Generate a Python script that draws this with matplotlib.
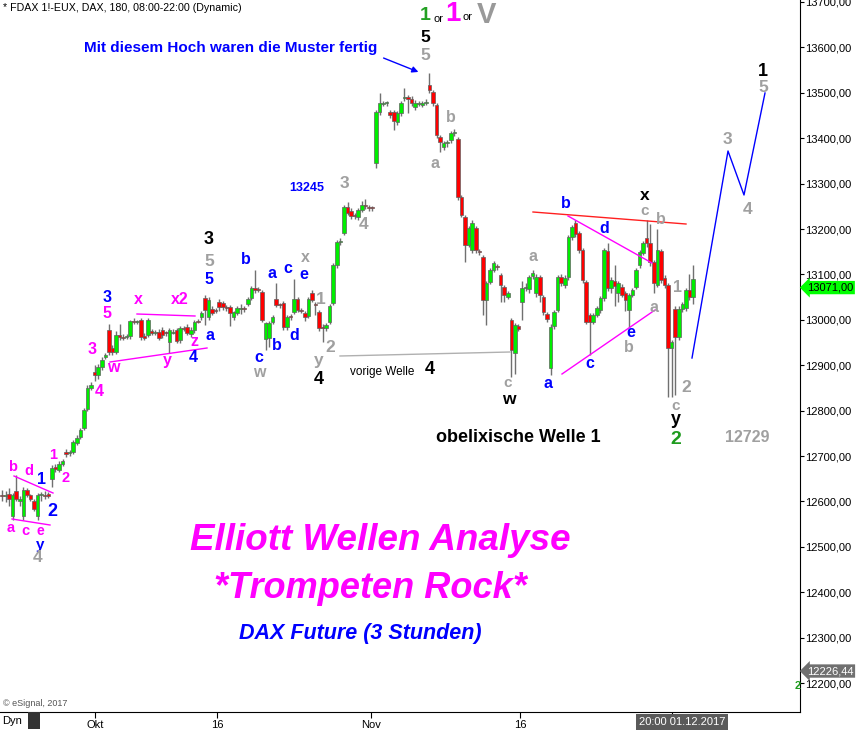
import numpy as np
import matplotlib.pyplot as plt

plt.rcParams['font.family'] = ['Liberation Sans', 'DejaVu Sans']

# 3-Stunden-Kerzen FDAX (open, high, low, close), von links nach rechts
kerzen_dreieck = [
    (12615, 12625, 12600, 12612), (12612, 12622, 12598, 12614), (12616, 12630, 12590, 12605),
    (12568, 12618, 12560, 12614), (12622, 12658, 12600, 12605), (12600, 12612, 12590, 12606),
    (12568, 12632, 12560, 12625), (12625, 12630, 12610, 12615), (12614, 12616, 12600, 12605),
    (12600, 12606, 12578, 12584), (12568, 12618, 12558, 12614), (12614, 12620, 12600, 12615),
    (12614, 12622, 12606, 12612), (12616, 12620, 12608, 12611),
]
kerzen_okt_anstieg = [
    (12649, 12680, 12632, 12674), (12676, 12682, 12664, 12671), (12669, 12688, 12664, 12682),
    (12682, 12694, 12678, 12689), (12709, 12715, 12698, 12704), (12706, 12714, 12700, 12708),
    (12709, 12735, 12704, 12731), (12729, 12746, 12724, 12740), (12742, 12762, 12738, 12757),
    (12762, 12806, 12758, 12801), (12804, 12856, 12800, 12850), (12850, 12862, 12845, 12856),
    (12885, 12900, 12866, 12878), (12878, 12902, 12870, 12896), (12896, 12918, 12890, 12912),
    (12918, 12928, 12914, 12923), (12978, 12990, 12923, 12929), (12938, 12945, 12922, 12929),
    (12929, 12975, 12925, 12967), (12967, 12990, 12955, 12962), (12963, 12968, 12955, 12961),
    (12963, 12968, 12958, 12963), (12964, 13000, 12958, 12998), (12998, 13004, 12990, 12995),
    (12996, 13000, 12990, 12996), (13000, 13005, 12956, 12962), (12964, 12970, 12955, 12960),
    (12967, 13003, 12962, 13000), (12975, 12980, 12966, 12972), (12972, 12978, 12966, 12972),
    (12973, 12980, 12955, 12960), (12978, 12984, 12960, 12967), (12972, 12976, 12965, 12971),
    (12951, 12982, 12927, 12978), (12972, 12980, 12968, 12974), (12978, 12982, 12948, 12953),
    (12956, 12986, 12950, 12982), (12982, 12986, 12975, 12980), (12984, 12990, 12966, 12971),
    (12969, 12984, 12962, 12978), (12978, 12999, 12972, 12996), (12998, 13002, 12992, 12996),
    (13006, 13020, 13000, 13015), (13048, 13055, 12989, 13022), (13006, 13050, 13000, 13044),
    (13024, 13030, 13010, 13015), (13022, 13026, 13014, 13020), (13039, 13045, 13020, 13028),
]
kerzen_okt_seitwaerts = [
    (13037, 13042, 13022, 13028), (13028, 13032, 13020, 13026), (13028, 13032, 12987, 13015),
    (13006, 13020, 13000, 13017), (13015, 13030, 13010, 13026), (13024, 13035, 13013, 13024),
    (13024, 13030, 13018, 13023), (13035, 13050, 13030, 13046), (13048, 13074, 13044, 13070),
    (13070, 13110, 13060, 13066), (13068, 13072, 13062, 13066), (13061, 13066, 12995, 13000),
    (12958, 12996, 12934, 12993), (12960, 12998, 12940, 12993), (12996, 13010, 12990, 13006),
    (13046, 13081, 13028, 13033), (13033, 13038, 13026, 13032), (13037, 13042, 12978, 12984),
    (12984, 13010, 12978, 13006), (13008, 13012, 13000, 13006), (13017, 13090, 13012, 13046),
    (13046, 13050, 13018, 13022), (13022, 13026, 13014, 13020), (13015, 13020, 12998, 13006),
    (13008, 13050, 13004, 13046), (13059, 13066, 13040, 13044),
    (13034, 13040, 13010, 13033), (13017, 13022, 12975, 12982),
    (12984, 12990, 12951, 12982), (12982, 12992, 12976, 12988), (12996, 13034, 12990, 13030),
    (13037, 13125, 13033, 13121), (13121, 13176, 13115, 13171), (13171, 13180, 13165, 13172),
    (13191, 13252, 13186, 13248), (13248, 13260, 13230, 13235), (13240, 13246, 13222, 13229),
    (13231, 13236, 13222, 13229), (13226, 13246, 13220, 13242), (13242, 13262, 13238, 13253),
    (13253, 13266, 13244, 13250), (13248, 13252, 13240, 13247), (13247, 13250, 13240, 13246),
]
kerzen_nov_hoch = [
    (13345, 13462, 13334, 13458), (13458, 13500, 13452, 13478), (13476, 13482, 13470, 13478),
    (13477, 13482, 13472, 13477), (13458, 13462, 13445, 13451), (13458, 13462, 13418, 13438),
    (13436, 13460, 13430, 13456), (13456, 13482, 13450, 13478), (13489, 13510, 13482, 13490),
    (13491, 13496, 13456, 13486), (13486, 13492, 13470, 13478),
    (13469, 13484, 13462, 13478), (13476, 13482, 13470, 13476), (13473, 13482, 13468, 13478),
    (13478, 13486, 13474, 13480), (13517, 13544, 13500, 13506), (13502, 13506, 13472, 13478),
    (13473, 13478, 13400, 13407), (13403, 13408, 13370, 13392), (13381, 13394, 13374, 13389),
    (13389, 13396, 13380, 13390), (13396, 13416, 13390, 13411), (13412, 13420, 13405, 13414),
    (13398, 13402, 13264, 13270), (13270, 13274, 13226, 13231), (13226, 13230, 13127, 13165),
    (13165, 13206, 13160, 13202), (13154, 13220, 13148, 13213), (13202, 13206, 13148, 13154),
    (13151, 13155, 13142, 13149), (13138, 13142, 13010, 13044), (13044, 13085, 12989, 13081),
    (13083, 13114, 13078, 13110), (13110, 13130, 13105, 13125), (13118, 13122, 13110, 13116),
    (13099, 13104, 13040, 13077), (13072, 13076, 13040, 13055), (13050, 13064, 13046, 13059),
    (13000, 13005, 12874, 12934), (12927, 12994, 12880, 12989), (12986, 12990, 12975, 12980),
]
kerzen_nov_seitwaerts = [
    (13039, 13086, 13000, 13070), (13070, 13080, 13064, 13072), (13068, 13098, 13060, 13094),
    (13096, 13110, 13090, 13103), (13059, 13100, 13050, 13094), (13094, 13098, 13040, 13055),
    (13050, 13055, 13010, 13017), (13013, 13018, 12995, 13002), (12894, 12990, 12878, 12984),
    (12986, 13022, 12980, 13017), (13022, 13098, 13017, 13094), (13094, 13100, 13075, 13081),
    (13077, 13098, 13070, 13092), (13094, 13186, 13088, 13182), (13182, 13208, 13176, 13204),
    (13213, 13220, 13182, 13189), (13191, 13196, 13148, 13154), (13154, 13158, 13082, 13088),
    (13083, 13088, 12990, 12996), (13011, 13016, 12923, 12996), (12996, 13016, 12990, 13011),
    (13011, 13030, 13006, 13026), (13022, 13052, 13016, 13048), (13048, 13158, 13042, 13154),
    (13151, 13170, 13064, 13070), (13070, 13094, 13060, 13088), (13086, 13120, 13030, 13075),
    (13059, 13086, 13040, 13081), (13072, 13078, 13050, 13055), (13059, 13064, 13020, 13044),
    (13022, 13060, 12985, 13055), (13055, 13070, 13050, 13066), (13072, 13114, 13068, 13110),
    (13121, 13154, 13115, 13149), (13147, 13174, 13142, 13169), (13180, 13220, 13160, 13169),
    (13169, 13210, 13118, 13127), (13127, 13132, 13060, 13081), (13077, 13200, 13072, 13154),
    (13151, 13156, 13082, 13088), (13092, 13098, 13070, 13077), (13077, 13082, 12830, 12938),
    (12938, 12956, 12830, 12951), (13024, 13030, 12834, 12962), (12962, 13030, 12955, 13024),
    (13024, 13040, 13018, 13035), (13026, 13070, 13020, 13066), (13066, 13100, 13044, 13050),
    (13050, 13120, 13035, 13090),
]

preis_ticks = list(range(12200, 13701, 100))
datum_labels = ['Okt', '16', 'Nov', '16']
letzter_kurs = 13071.00
tief_kurs = 12226.44

kerzen = kerzen_dreieck + kerzen_okt_anstieg + kerzen_okt_seitwaerts + kerzen_nov_hoch + kerzen_nov_seitwaerts
o, h, l, c = (np.array(v, dtype=float) for v in zip(*kerzen))
x = np.arange(len(kerzen))

W, H = 856, 730
fig = plt.figure(figsize=(W / 100, H / 100), dpi=100)
fig.patch.set_facecolor('white')
ax = fig.add_axes([0, (H - 712) / H, 800 / W, 712 / H])

y_top, y_bot = 13704.4, 12136.2
sp = 691 / (len(kerzen) - 1)


def px(xp, yp):
    # Pixel im Bild -> Datenkoordinaten (Kerzenindex, Kurs)
    return (xp - 2) / sp, y_top - yp * (y_top - y_bot) / 712


ax.set_xlim(px(0, 0)[0], px(800, 0)[0])
ax.set_ylim(y_bot, y_top)

# Kerzen: Dochte hinter den Koerpern
ax.vlines(x, l, h, color='#707070', lw=1, zorder=1)
unten = np.minimum(o, c)
hoehe = np.maximum(np.abs(c - o), 2.0)
farben = np.where(c >= o, '#00ee00', '#ff0000')
ax.bar(x, hoehe, bottom=unten, width=1.0, color=farben, edgecolor='#606060', linewidth=0.5, zorder=2)

# Achsen
for s in ['left', 'top']:
    ax.spines[s].set_visible(False)
ax.yaxis.tick_right()
ax.set_yticks(preis_ticks)
ax.set_yticklabels([f"{p},00" for p in preis_ticks])
ax.tick_params(axis='y', direction='out', length=3, labelsize=8, pad=1)
ax.set_xticks([px(p, 0)[0] for p in [95, 217, 371, 520, 672]])
ax.set_xticklabels(datum_labels + [''])
ax.tick_params(axis='x', direction='out', length=4, labelsize=8, pad=2)


def linie(punkte, farbe, lw=1.0):
    pts = [px(a, b) for a, b in punkte]
    ax.plot([p[0] for p in pts], [p[1] for p in pts], color=farbe, lw=lw, clip_on=False, zorder=3)


linie([(14, 476), (53, 493)], '#ff00ff')
linie([(12, 519), (50, 525)], '#ff00ff')
linie([(137, 314), (195, 316)], '#ff00ff')
linie([(110, 362), (207, 348)], '#ff00ff')
linie([(340, 356), (510, 352)], '#b0b0b0')
linie([(533, 212), (686, 224)], '#ff2020')
linie([(568, 216), (652, 263)], '#ff00ff')
linie([(562, 374), (655, 310)], '#ff00ff')
linie([(692, 358), (728, 151), (744, 195), (765, 93)], '#0000ff')

ax.annotate('', xy=px(421, 73), xytext=px(381, 57),
            arrowprops=dict(arrowstyle='-|>', color='#0000ff', lw=1, mutation_scale=9))


def t(s, xp, yp, farbe, size=11, bold=True, **kw):
    fig.text(xp / W, 1 - yp / H, s, color=farbe, fontsize=size,
             fontweight='bold' if bold else 'normal', ha=kw.pop('ha', 'center'), va='center', **kw)


GR, BL, MA, SW, GN = '#a0a0a0', '#0000ff', '#ff00ff', 'black', '#1e9b1e'

t('* FDAX 1!-EUX, DAX, 180, 08:00-22:00 (Dynamic)', 3, 8, SW, 7.7, False, ha='left')
t('1', 425, 15, '#22a022', 14)
t('or', 438, 19, SW, 8, False)
t('1', 453, 14, MA, 20)
t('or', 467, 17, SW, 8, False)
t('V', 486, 15, '#999999', 21)
t('5', 425, 37, SW, 12.5)
t('5', 425, 56, GR, 12.5)
t('Mit diesem Hoch waren die Muster fertig', 231, 48, BL, 11)
t('1', 763, 72, SW, 13)
t('5', 763, 87, GR, 12.5)
t('3', 727, 140, GR, 12.5)
t('4', 748, 210, GR, 12.5)
t('b', 451, 117, GR, 11.5)
t('a', 435, 164, GR, 11.5)
t('13245', 307, 188, BL, 9)
t('3', 344, 184, GR, 12.5)
t('4', 364, 224, GR, 12.5)
t('x', 645, 195, SW, 12.5)
t('c', 645, 211, GR, 11)
t('b', 661, 219, GR, 11.5)
t('b', 566, 204, BL, 11.5)
t('d', 604, 228, BL, 11.5)
t('a', 533, 257, GR, 11.5)
t('3', 209, 240, SW, 13)
t('5', 209, 262, GR, 12.5)
t('5', 209, 280, BL, 11.5)
t('b', 246, 259, BL, 11.5)
t('a', 272, 273, BL, 11.5)
t('c', 288, 268, BL, 11.5)
t('x', 305, 258, GR, 11.5)
t('e', 304, 275, BL, 11.5)
t('1', 321, 299, GR, 12.5)
t('a', 654, 307, GR, 11.5)
t('1', 677, 287, GR, 11.5)
t('3', 107, 298, BL, 11.5)
t('x', 138, 300, MA, 11.5)
t('x2', 180, 300, MA, 11.5)
t('5', 107, 313, MA, 11.5)
t('a', 210, 336, BL, 11.5)
t('3', 92, 349, MA, 11.5)
t('w', 113, 368, MA, 11.5)
t('y', 167, 361, MA, 11.5)
t('z', 194, 342, MA, 11.5)
t('4', 193, 358, BL, 11.5)
t('4', 99, 392, MA, 11.5)
t('c', 259, 358, BL, 11.5)
t('w', 259, 373, GR, 11.5)
t('b', 277, 345, BL, 11.5)
t('d', 294, 335, BL, 11.5)
t('2', 330, 347, GR, 12.5)
t('y', 319, 361, GR, 12.5)
t('4', 319, 380, SW, 13)
t('vorige Welle', 382, 372, SW, 8.5, False)
t('4', 430, 370, SW, 13)
t('c', 508, 383, GR, 11)
t('w', 509, 399, SW, 12.5)
t('a', 548, 384, BL, 11.5)
t('c', 590, 363, BL, 11.5)
t('e', 631, 333, BL, 11.5)
t('b', 629, 347, GR, 11.5)
t('2', 686, 387, GR, 12.5)
t('c', 676, 406, GR, 11)
t('y', 676, 420, SW, 13)
t('2', 676, 439, GN, 14)
t('obelixische Welle 1', 518, 437, SW, 13)
t('12729', 747, 438, GR, 11.5)
t('b', 13, 467, MA, 10.5)
t('d', 29, 471, MA, 10.5)
t('1', 42, 480, BL, 11.5)
t('1', 53, 455, MA, 10.5)
t('2', 66, 478, MA, 10.5)
t('2', 52, 511, BL, 13)
t('a', 11, 528, MA, 10.5)
t('c', 25, 531, MA, 10.5)
t('e', 40, 531, MA, 10)
t('y', 40, 545, BL, 11)
t('4', 38, 558, GR, 12.5)
t('Elliott Wellen Analyse', 380, 540, MA, 26.5, style='italic')
t('*Trompeten Rock*', 370, 588, MA, 26, style='italic')
t('DAX Future (3 Stunden)', 360, 633, BL, 15.5, style='italic')
t('\u00a9 eSignal, 2017', 3, 703, '#555555', 6.5, False, ha='left')
t('Dyn', 2, 721, SW, 8, False, ha='left')
fig.patches.append(plt.Rectangle((28 / W, 1 - 729 / H), 12 / W, 17 / H, transform=fig.transFigure,
                                 facecolor='#333333', edgecolor='none'))
t('20:00 01.12.2017', 682, 722, 'white', 8, False,
  bbox=dict(boxstyle='square,pad=0.25', fc='#5a5a5a', ec='none'))
t('2', 798, 686, GN, 8)

# Kursmarken rechts
ax.annotate(f"{letzter_kurs:.2f}".replace('.', ','), xy=(1.0, letzter_kurs), xycoords=('axes fraction', 'data'),
            xytext=(5, 0), textcoords='offset points', va='center', ha='left', fontsize=8, color='black',
            bbox=dict(boxstyle='larrow,pad=0.15', fc='#00ff00', ec='none'), annotation_clip=False)
ax.annotate(f"{tief_kurs:.2f}".replace('.', ','), xy=(1.0, tief_kurs), xycoords=('axes fraction', 'data'),
            xytext=(5, 0), textcoords='offset points', va='center', ha='left', fontsize=8, color='white',
            bbox=dict(boxstyle='larrow,pad=0.15', fc='#707070', ec='none'), annotation_clip=False)

fig.savefig('out.png', dpi=100)
